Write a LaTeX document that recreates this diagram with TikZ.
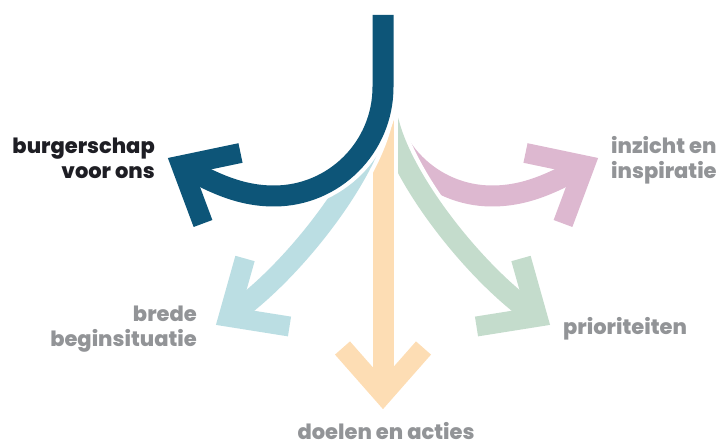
\documentclass[tikz,border=0pt]{standalone}
\usepackage{fontspec}
\setmainfont{Poppins}[BoldFont={Poppins ExtraBold}]
\definecolor{dblue}{RGB}{13,85,120}
\definecolor{lblue}{RGB}{187,222,227}
\definecolor{orng}{RGB}{253,221,180}
\definecolor{grn}{RGB}{196,220,204}
\definecolor{pnk}{RGB}{221,184,208}
\definecolor{gtext}{RGB}{146,148,151}
\definecolor{btext}{RGB}{30,30,36}
\begin{document}
\begin{tikzpicture}[x=1pt,y=-1pt,
  shaft/.style={draw=white, line width=4.2pt, double=#1, double distance=21pt},
  chev/.style={draw=#1, line width=20pt, line join=miter, miter limit=10},
  lbl/.style={font=\bfseries\fontsize{21}{25}\selectfont, inner sep=0pt}]
\useasboundingbox (0,0) rectangle (724,443);
% key points
\coordinate (top) at (383,15);
\coordinate (src) at (383,100);
\coordinate (tipP) at (584.7,165.4);
\coordinate (tipG) at (537.4,316.8);
\coordinate (tipO) at (383,394);
\coordinate (tipL) at (228.6,316.8);
\coordinate (tipD) at (181.3,165.4);
% pink
\draw[shaft=pnk] (383,80) -- (383,87) .. controls (383,147.2) and (431.8,196) .. (492,196) .. controls (527,196) and (554.4,182) .. (tipP);
\draw[chev=pnk] (525.5,153) -- (tipP) -- (563,223.5);
% green
\draw[shaft=grn] (382.8,105) -- (389,124) .. controls (405,185) and (479.2,277.9) .. (tipG);
\draw[chev=grn] (521,258.5) -- (tipG) -- (476.5,326.5);
% orange
\draw[shaft=orng] (src) -- (tipO);
\draw[chev=orng] (342.5,348) -- (tipO) -- (423.5,348);
% light blue
\draw[shaft=lblue] (383.2,105) -- (377,124) .. controls (361,185) and (286.8,277.9) .. (tipL);
\draw[chev=lblue] (245,258.5) -- (tipL) -- (289.5,326.5);
% dark blue
\draw[shaft=dblue] (top) -- (383,87) .. controls (383,147.2) and (334.2,196) .. (274,196) .. controls (239,196) and (211.6,182) .. (tipD);
\draw[chev=dblue] (240.5,153) -- (tipD) -- (203,223.5);
% labels
\node[lbl, text=btext, anchor=base east] (burg1) at (155,154) {burgerschap};
\node[lbl, text=btext, anchor=base east] (burg2) at (155,179) {voor ons};
\node[lbl, text=gtext, anchor=base west] (inz1) at (611,154) {inzicht en};
\node[lbl, text=gtext, anchor=base west] (inz2) at (611,179) {inspiratie};
\node[lbl, text=gtext, anchor=base east] (brede1) at (197,322) {brede};
\node[lbl, text=gtext, anchor=base east] (brede2) at (197,347) {beginsituatie};
\node[lbl, text=gtext, anchor=base west] (prio) at (563,335) {prioriteiten};
\node[lbl, text=gtext, anchor=base] (doel) at (386,440) {doelen en acties};
\end{tikzpicture}
\end{document}
